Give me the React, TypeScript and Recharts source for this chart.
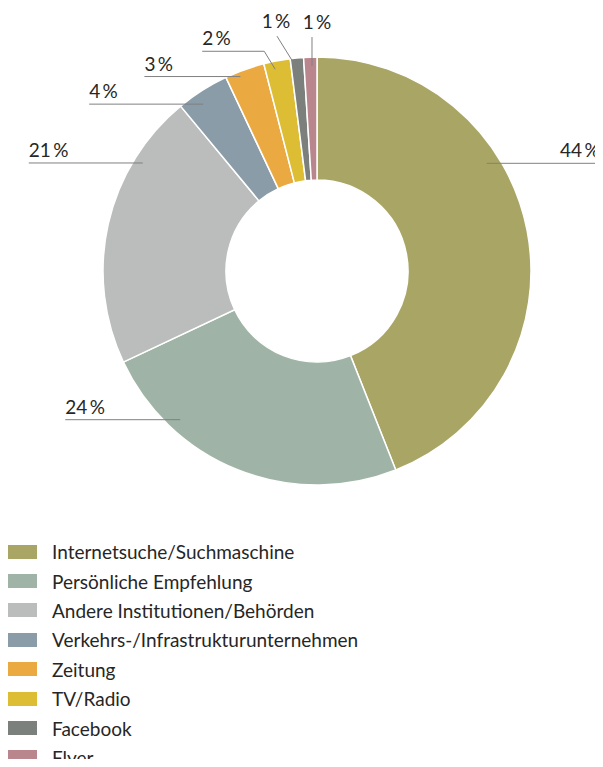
import { Cell, Pie, PieChart } from 'recharts'

const categories = [
  'Internetsuche/Suchmaschine',
  'Persönliche Empfehlung',
  'Andere Institutionen/Behörden',
  'Verkehrs-/Infrastrukturunternehmen',
  'Zeitung',
  'TV/Radio',
  'Facebook',
  'Flyer',
]

const shares = [44, 24, 21, 4, 3, 2, 1, 1]

const colors = ['#a9a665', '#9fb4a6', '#babdbb', '#8a9ca8', '#eaaa41', '#dcbd34', '#7b807d', '#b9868e']

// leader line placement: start angle (deg clockwise from 12 o'clock), start radius,
// elbow offset from start, horizontal run (negative = to the left), text x shift
const labelLayout = [
  { angle: 57.6, r: 201, elbow: [0, 0], run: 113, dx: 0 },
  { angle: 222.6, r: 202, elbow: [0, 0], run: -115, dx: 0 },
  { angle: 301.8, r: 205, elbow: [0, 0], run: -114, dx: 0 },
  { angle: 325.7, r: 202, elbow: [0, 0], run: -114, dx: 0 },
  { angle: 338.5, r: 209, elbow: [0, 0], run: -96, dx: 0 },
  { angle: 348.3, r: 206, elbow: [-11, -18], run: -62, dx: 0 },
  { angle: 353.9, r: 207, elbow: [-18, -29], run: 0, dx: -1 },
  { angle: 358.6, r: 205, elbow: [0, -29], run: 0, dx: 5 },
]

const FONT = 'Lato, "Open Sans", sans-serif'
const TEXT = '#262626'
const LINE = '#808080'

const data = categories.map((name, i) => ({ name, value: shares[i] }))

function renderLabel(props: any) {
  const { cx, cy, index, value } = props
  const l = labelLayout[index]
  const rad = (l.angle * Math.PI) / 180
  const x0 = cx + l.r * Math.sin(rad)
  const y0 = cy - l.r * Math.cos(rad)
  const x1 = x0 + l.elbow[0]
  const y1 = y0 + l.elbow[1]
  const x2 = x1 + l.run
  const text = `${value}\u2009%`
  let tx = x2
  let anchor: 'start' | 'end' | 'middle' = 'start'
  if (l.run > 0) anchor = 'end'
  if (l.run === 0) {
    anchor = 'middle'
    tx = x1 + l.dx
  }
  return (
    <g key={`lbl-${index}`}>
      <polyline
        points={`${x0},${y0} ${x1},${y1} ${x2},${y1}`}
        fill="none"
        stroke={LINE}
        strokeWidth={1}
      />
      <text
        x={tx}
        y={y1 - (l.run === 0 ? 8 : 6)}
        textAnchor={anchor}
        fontFamily={FONT}
        fontSize={19}
        fill={TEXT}
      >
        {text}
      </text>
    </g>
  )
}

function ChartLegend() {
  return (
    <div
      style={{
        position: 'absolute',
        left: 8,
        top: 537,
        fontFamily: FONT,
        fontSize: 19,
        color: TEXT,
      }}
    >
      {categories.map((name, i) => (
        <div key={name} style={{ display: 'flex', alignItems: 'center', height: 29.4 }}>
          <span
            style={{
              display: 'inline-block',
              width: 29,
              height: 14,
              background: colors[i],
              marginRight: 15,
            }}
          />
          <span>{name}</span>
        </div>
      ))}
    </div>
  )
}

export default function App() {
  return (
    <div style={{ position: 'relative', margin: -8, width: 603, height: 767, background: '#fff', overflow: 'hidden' }}>
      <PieChart width={603} height={767} margin={{ top: 0, right: 0, bottom: 0, left: 0 }}>
        <Pie
          data={data}
          dataKey="value"
          nameKey="name"
          cx={317}
          cy={271}
          innerRadius={91}
          outerRadius={214}
          startAngle={90}
          endAngle={-270}
          stroke="#fff"
          strokeWidth={1.5}
          label={renderLabel}
          labelLine={false}
          isAnimationActive={false}
        >
          {data.map((d, i) => (
            <Cell key={d.name} fill={colors[i]} />
          ))}
        </Pie>
      </PieChart>
      <ChartLegend />
    </div>
  )
}
